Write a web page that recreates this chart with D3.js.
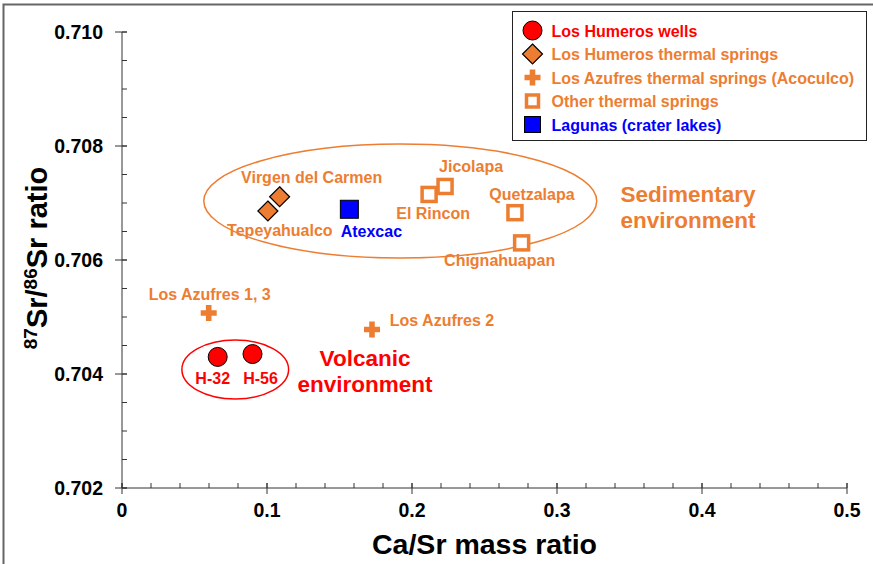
<!DOCTYPE html>
<html>
<head>
<meta charset="utf-8">
<script src="https://cdn.jsdelivr.net/npm/d3@7"></script>
<style>
  body { margin: 0; background: #fff; }
  text { font-family: Arial, "Liberation Sans", sans-serif; font-weight: bold; }
</style>
</head>
<body>
<script>
// chart data
var wellNames = ["H-32", "H-56"]
var wellCaSr = [0.066, 0.090]
var wellSr = [0.70430, 0.70435]

var humerosSpringNames = ["Tepeyahualco", "Virgen del Carmen"]
var humerosSpringCaSr = [0.1006, 0.1087]
var humerosSpringSr = [0.70686, 0.70711]

var azufresNames = ["Los Azufres 1, 3", "Los Azufres 2"]
var azufresCaSr = [0.0598, 0.1724]
var azufresSr = [0.70507, 0.70478]

var otherSpringNames = ["El Rincon", "Jicolapa", "Quetzalapa", "Chignahuapan"]
var otherSpringCaSr = [0.2118, 0.2228, 0.2710, 0.2756]
var otherSpringSr = [0.70715, 0.70729, 0.70683, 0.70630]

var lakeNames = ["Atexcac"]
var lakeCaSr = [0.1568]
var lakeSr = [0.70689]

var legendLabels = ["Los Humeros wells", "Los Humeros thermal springs",
  "Los Azufres thermal springs (Acoculco)", "Other thermal springs", "Lagunas (crater lakes)"]

var xTicks = [0, 0.1, 0.2, 0.3, 0.4, 0.5]
var yTicks = [0.702, 0.704, 0.706, 0.708, 0.710]

// environment ellipses in data units: [cx, cy, rx, ry]
var sedimentaryEllipse = [0.1919, 0.707035, 0.1355, 0.0010]
var volcanicEllipse = [0.0781, 0.704079, 0.0368, 0.000518]

var orange = "#ED7D31"
var red = "#FF0000"
var blue = "#0000FF"

var width = 873
var height = 564
var margin = {left: 122, top: 32, right: 24, bottom: 76}

var svg = d3.select("body")
  .append("svg")
    .attr("width", width)
    .attr("height", height)

// outer frame
svg.append("rect")
  .attr("x", 3.5).attr("y", 4.5)
  .attr("width", 900).attr("height", 600)
  .attr("fill", "none")
  .attr("stroke", "#666")
  .attr("stroke-width", 2)

var x = d3.scaleLinear().domain([0, 0.5]).range([margin.left, width - margin.right - 2])
var y = d3.scaleLinear().domain([0.702, 0.710]).range([height - margin.bottom, margin.top])

var axisColor = "#333"

// x axis: minor ticks inside, major ticks crossing
var gx = svg.append("g")
gx.append("line")
  .attr("x1", x(0)).attr("x2", x(0.5))
  .attr("y1", y(0.702)).attr("y2", y(0.702))
  .attr("stroke", axisColor)
gx.selectAll(".minor")
  .data(d3.range(0, 0.5001, 0.02))
  .enter().append("line")
    .attr("x1", function(d){ return x(d) }).attr("x2", function(d){ return x(d) })
    .attr("y1", y(0.702)).attr("y2", y(0.702) - 5)
    .attr("stroke", axisColor)
gx.selectAll(".major")
  .data(xTicks)
  .enter().append("line")
    .attr("x1", function(d){ return x(d) }).attr("x2", function(d){ return x(d) })
    .attr("y1", y(0.702) - 5).attr("y2", y(0.702) + 6)
    .attr("stroke", axisColor)
gx.selectAll("text")
  .data(xTicks)
  .enter().append("text")
    .attr("x", function(d){ return x(d) })
    .attr("y", y(0.702) + 29)
    .attr("text-anchor", "middle")
    .style("font-size", "19.5px")
    .text(function(d){ return d === 0 ? "0" : d3.format(".1f")(d) })

// y axis
var gy = svg.append("g")
gy.append("line")
  .attr("x1", x(0)).attr("x2", x(0))
  .attr("y1", y(0.702)).attr("y2", y(0.710))
  .attr("stroke", axisColor)
gy.selectAll(".minor")
  .data(d3.range(0.702, 0.71001, 0.0005))
  .enter().append("line")
    .attr("x1", x(0)).attr("x2", x(0) + 5)
    .attr("y1", function(d){ return y(d) }).attr("y2", function(d){ return y(d) })
    .attr("stroke", axisColor)
gy.selectAll(".major")
  .data(yTicks)
  .enter().append("line")
    .attr("x1", x(0) - 7).attr("x2", x(0) + 5)
    .attr("y1", function(d){ return y(d) }).attr("y2", function(d){ return y(d) })
    .attr("stroke", axisColor)
gy.selectAll("text")
  .data(yTicks)
  .enter().append("text")
    .attr("x", x(0) - 19)
    .attr("y", function(d){ return y(d) + 7 })
    .attr("text-anchor", "end")
    .style("font-size", "19.5px")
    .text(function(d){ return d3.format(".3f")(d) })

// axis titles
svg.append("text")
  .attr("x", (x(0) + x(0.5)) / 2)
  .attr("y", 554)
  .attr("text-anchor", "middle")
  .style("font-size", "28.5px")
  .text("Ca/Sr mass ratio")

var yTitle = svg.append("text")
  .attr("transform", "translate(47," + 258 + ") rotate(-90)")
  .attr("text-anchor", "middle")
  .style("font-size", "29px")
yTitle.append("tspan").attr("dy", -10).style("font-size", "19px").text("87")
yTitle.append("tspan").attr("dy", 10).text("Sr/")
yTitle.append("tspan").attr("dy", -10).style("font-size", "19px").text("86")
yTitle.append("tspan").attr("dy", 10).text("Sr ratio")

// environment ellipses
function drawEllipse(e, color) {
  svg.append("ellipse")
    .attr("cx", x(e[0]))
    .attr("cy", y(e[1]))
    .attr("rx", x(e[2]) - x(0))
    .attr("ry", y(0) - y(e[3]))
    .attr("fill", "none")
    .attr("stroke", color)
    .attr("stroke-width", 1.5)
}
drawEllipse(sedimentaryEllipse, orange)
drawEllipse(volcanicEllipse, red)

// marker shapes
var crossPath = "M-2.8,-8H2.8V-2.8H8V2.8H2.8V8H-2.8V2.8H-8V-2.8H-2.8Z"
function circleMark(g) {
  g.append("circle").attr("r", 9.5).attr("fill", red).attr("stroke", "#000").attr("stroke-width", 1)
}
function diamondMark(g) {
  g.append("path").attr("d", "M0,-10L10,0L0,10L-10,0Z").attr("fill", orange).attr("stroke", "#000").attr("stroke-width", 1.2)
}
function crossMark(g) {
  g.append("path").attr("d", crossPath).attr("fill", orange)
}
function openSquareMark(g) {
  g.append("rect").attr("x", -7).attr("y", -7).attr("width", 14).attr("height", 14)
    .attr("fill", "#fff").attr("stroke", orange).attr("stroke-width", 3.5)
}
function blueSquareMark(g) {
  g.append("rect").attr("x", -9).attr("y", -9).attr("width", 18).attr("height", 18)
    .attr("fill", blue).attr("stroke", "#000").attr("stroke-width", 1)
}

// label offsets (pixels) for each point name
var labelOffsets = {
  "H-32": [-5, 27], "H-56": [8, 30],
  "Tepeyahualco": [12, 25], "Virgen del Carmen": [32, -14],
  "Los Azufres 1, 3": [1, -13], "Los Azufres 2": [70, -4],
  "El Rincon": [4, 25], "Jicolapa": [26, -14], "Quetzalapa": [17, -13], "Chignahuapan": [-22, 23],
  "Atexcac": [22, 28]
}

function drawSeries(names, xs, ys, mark, labelColor) {
  var pts = names.map(function(n, i){ return {name: n, x: xs[i], y: ys[i]} })
  var g = svg.append("g")
    .selectAll("g")
    .data(pts)
    .enter()
    .append("g")
      .attr("transform", function(d){ return "translate(" + x(d.x) + "," + y(d.y) + ")" })
  g.each(function(){ mark(d3.select(this)) })
  g.append("text")
    .attr("x", function(d){ return labelOffsets[d.name][0] })
    .attr("y", function(d){ return labelOffsets[d.name][1] })
    .attr("text-anchor", "middle")
    .attr("fill", labelColor)
    .style("font-size", "16px")
    .text(function(d){ return d.name })
}

drawSeries(humerosSpringNames, humerosSpringCaSr, humerosSpringSr, diamondMark, orange)
drawSeries(otherSpringNames, otherSpringCaSr, otherSpringSr, openSquareMark, orange)
drawSeries(lakeNames, lakeCaSr, lakeSr, blueSquareMark, blue)
drawSeries(azufresNames, azufresCaSr, azufresSr, crossMark, orange)
drawSeries(wellNames, wellCaSr, wellSr, circleMark, red)

// environment captions
function caption(lines, cx, cy, color) {
  var t = svg.append("text")
    .attr("text-anchor", "middle")
    .attr("fill", color)
    .style("font-size", "22.5px")
  lines.forEach(function(l, i){
    t.append("tspan").attr("x", cx).attr("y", cy + i * 26).text(l)
  })
}
caption(["Sedimentary", "environment"], 688, 202, orange)
caption(["Volcanic", "environment"], 365, 366, red)

// legend
var legend = svg.append("g").attr("transform", "translate(512.5,11.5)")
legend.append("rect")
  .attr("width", 354).attr("height", 129)
  .attr("fill", "#fff")
  .attr("stroke", "#222")
  .attr("stroke-width", 1)
var legendMarks = [circleMark, diamondMark, crossMark, openSquareMark, blueSquareMark]
var legendColors = [red, orange, orange, orange, blue]
var items = legend.selectAll(".item")
  .data(legendLabels)
  .enter()
  .append("g")
    .attr("transform", function(d, i){ return "translate(20," + (19 + i * 23.5) + ")" })
items.each(function(d, i){
  var g = d3.select(this)
  if (i === 3) {
    g.append("rect").attr("x", -6).attr("y", -6).attr("width", 12).attr("height", 12)
      .attr("fill", "#fff").attr("stroke", orange).attr("stroke-width", 3.5)
  } else if (i === 4) {
    g.append("rect").attr("x", -8).attr("y", -8).attr("width", 16).attr("height", 16)
      .attr("fill", blue).attr("stroke", "#000").attr("stroke-width", 1)
  } else {
    legendMarks[i](g)
  }
})
items.append("text")
  .attr("x", 19)
  .attr("y", 6)
  .attr("fill", function(d, i){ return legendColors[i] })
  .style("font-size", "16px")
  .text(function(d){ return d })
</script>
</body>
</html>
